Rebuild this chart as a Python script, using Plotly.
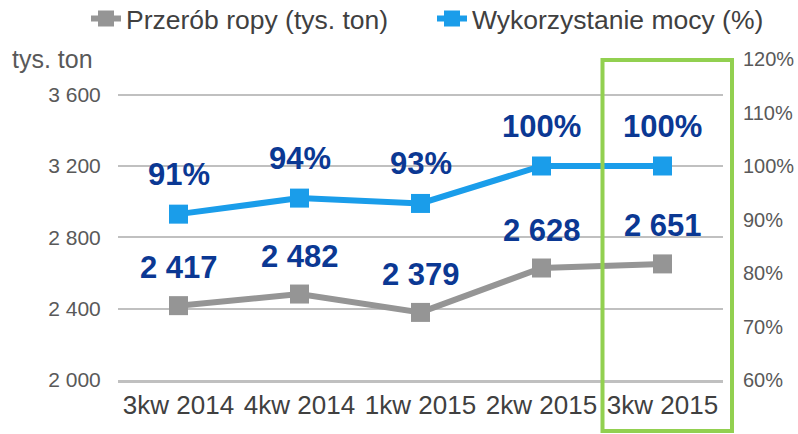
import plotly.graph_objects as go

categories = ["3kw 2014", "4kw 2014", "1kw 2015", "2kw 2015", "3kw 2015"]
przerob = [2417, 2482, 2379, 2628, 2651]
przerob_labels = ["2 417", "2 482", "2 379", "2 628", "2 651"]
moc = [91, 94, 93, 100, 100]
moc_labels = ["91%", "94%", "93%", "100%", "100%"]

left_ticks = [2000, 2400, 2800, 3200, 3600]
left_ticktext = ["2 000", "2 400", "2 800", "3 200", "3 600"]
right_ticks = [60, 70, 80, 90, 100, 110, 120]
right_ticktext = ["60%", "70%", "80%", "90%", "100%", "110%", "120%"]

FONT = "Liberation Sans, Arial, sans-serif"
GRAY = "#959595"
BLUE = "#1A9DEA"
LABEL = "#0B3893"
GRID = "#C0C0C0"

fig = go.Figure()
fig.add_trace(go.Scatter(
    x=categories, y=przerob, name="Przerób ropy (tys. ton)",
    mode="lines+markers", line=dict(color=GRAY, width=6),
    marker=dict(symbol="square", size=19, color=GRAY), yaxis="y",
    legend="legend"))
fig.add_trace(go.Scatter(
    x=categories, y=moc, name="Wykorzystanie mocy (%)",
    mode="lines+markers", line=dict(color=BLUE, width=6),
    marker=dict(symbol="square", size=19, color=BLUE), yaxis="y2",
    legend="legend2"))

annotations = []
for c, v, t in zip(categories, przerob, przerob_labels):
    annotations.append(dict(x=c, y=v, xref="x", yref="y", text="<b>%s</b>" % t,
                            showarrow=False, yshift=38,
                            font=dict(family=FONT, size=31, color=LABEL)))
for c, v, t in zip(categories, moc, moc_labels):
    annotations.append(dict(x=c, y=v, xref="x", yref="y2", text="<b>%s</b>" % t,
                            showarrow=False, yshift=40,
                            font=dict(family=FONT, size=31, color=LABEL)))
annotations.append(dict(x=-0.179, y=1.0, xref="paper", yref="paper", text="tys. ton",
                        showarrow=False, xanchor="left", yanchor="middle",
                        font=dict(family=FONT, size=25, color="#595959")))

legend_common = dict(orientation="h", xref="container", yref="container",
                     yanchor="middle", xanchor="left", y=0.957,
                     font=dict(family=FONT, size=26.5, color="#404040"),
                     bgcolor="rgba(0,0,0,0)", borderwidth=0)

fig.update_layout(
    width=798, height=434,
    margin=dict(l=118, r=75, t=59, b=54, autoexpand=False),
    plot_bgcolor="white", paper_bgcolor="white",
    font=dict(family=FONT, color="#595959"),
    showlegend=True,
    legend=dict(legend_common, x=86 / 798),
    legend2=dict(legend_common, x=432 / 798),
    xaxis=dict(type="category", range=[-0.5, 4.5], showgrid=False,
               showline=True, linecolor=GRID, linewidth=3,
               tickfont=dict(family=FONT, size=26, color="#404040"),
               ticks="", zeroline=False),
    yaxis=dict(range=[2000, 3800], tickvals=left_ticks, ticktext=left_ticktext,
               showgrid=True, gridcolor=GRID, gridwidth=1.5, zeroline=False,
               tickfont=dict(family=FONT, size=21, color="#595959"),
               ticks="outside", ticklen=12, tickcolor="rgba(0,0,0,0)",
               showline=False),
    yaxis2=dict(range=[60, 120], tickvals=right_ticks, ticktext=right_ticktext,
                overlaying="y", side="right", showgrid=False, zeroline=False,
                tickfont=dict(family=FONT, size=20, color="#595959"),
                ticks="outside", ticklen=15, tickcolor="rgba(0,0,0,0)",
                showline=False),
    annotations=annotations,
    shapes=[dict(type="rect", xref="paper", yref="paper",
                 x0=(602.5 - 118) / 605, x1=(732 - 118) / 605,
                 y0=-0.159, y1=0.997,
                 line=dict(color="#92D050", width=4), fillcolor="rgba(0,0,0,0)",
                 layer="above")],
)

fig.write_html("out.html", config={"displayModeBar": False},
               post_script="document.body.style.margin='0';document.body.style.overflow='hidden';")
